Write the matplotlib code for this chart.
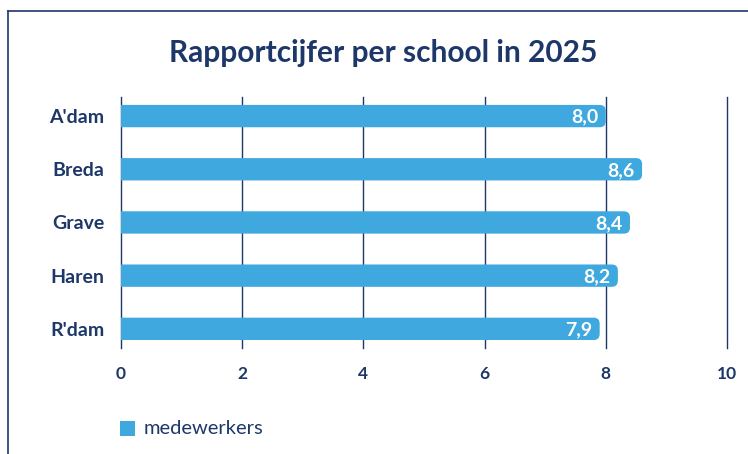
import matplotlib
matplotlib.use("Agg")
import matplotlib.pyplot as plt
from matplotlib.patches import FancyBboxPatch, Rectangle
from matplotlib.lines import Line2D

schools = ["A'dam", "Breda", "Grave", "Haren", "R'dam"]
scores = [8.0, 8.6, 8.4, 8.2, 7.9]
ticks = [0, 2, 4, 6, 8, 10]

navy = "#1d3769"
barcol = "#3ea8df"
plt.rcParams['font.family'] = ['Lato', 'DejaVu Sans']

fig = plt.figure(figsize=(7.48, 4.54), dpi=100)
ax = fig.add_axes([0.1618, 0.2335, 0.810, 0.553])

ypos = list(range(len(schools)))
h = 0.42
for y, v in zip(ypos, scores):
    # rounded bar, started left of 0 so the axes clip squares the left end
    p = FancyBboxPatch((-0.3, y - h/2), v + 0.3, h, boxstyle="round,pad=0,rounding_size=0.1",
                       mutation_aspect=1.14, fc=barcol, ec="none", zorder=3)
    ax.add_patch(p)
    ax.text(v - 0.12, y + 0.02, f"{v:.1f}".replace(".", ","), color="white",
            ha="right", va="center", fontsize=14, fontweight="bold", zorder=4)

ax.set_xlim(0, 10)
ax.set_ylim(4.36, -0.36)
ax.set_xticks(ticks)
ax.set_xticklabels([str(t) for t in ticks], fontsize=12.5, fontweight="bold", color=navy)
ax.set_yticks(ypos)
ax.set_yticklabels(schools, fontsize=14, fontweight="bold", color=navy)
ax.tick_params(length=0, pad=13)
ax.tick_params(axis="y", pad=12)
for t in ticks:
    ax.axvline(t, color=navy, lw=1, zorder=1, clip_on=False)
for s in ax.spines.values():
    s.set_visible(False)

fig.text(0.512, 0.883, "Rapportcijfer per school in 2025", ha="center", va="center",
         fontsize=21.5, fontweight="bold", color=navy)

# legend
fig.patches.append(Rectangle((120/748, 1 - 436/454), 15/748, 15/454,
                             transform=fig.transFigure, fc=barcol, ec="none"))
fig.text(144/748, 1 - 428/454, "medewerkers", ha="left", va="center",
         fontsize=14.5, color=navy)

# frame lines
fig.lines.append(Line2D([8/748, 8/748], [0, 1 - 11/454], transform=fig.transFigure,
                        color=navy, lw=1.2))
fig.lines.append(Line2D([8/748, 1], [1 - 11/454, 1 - 11/454], transform=fig.transFigure,
                        color=navy, lw=1.2))

fig.savefig("out.png", dpi=100)
